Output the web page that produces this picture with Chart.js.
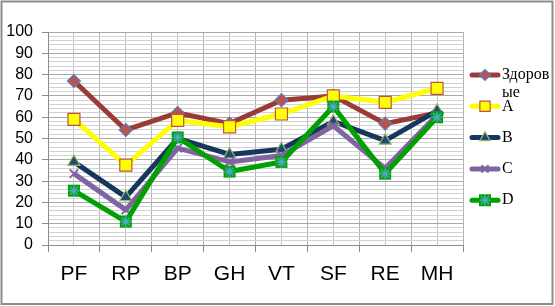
<!DOCTYPE html>
<html>
<head>
<meta charset="utf-8">
<script src="https://cdn.jsdelivr.net/npm/chart.js@4"></script>
<style>
  html, body { margin: 0; padding: 0; background: #fff; }
  #wrap { width: 555px; height: 306px; }
</style>
</head>
<body>
<div id="wrap"><canvas id="myChart1" width="555" height="306"></canvas></div>
<script>
  // Data
  const labels1 = ['PF', 'RP', 'BP', 'GH', 'VT', 'SF', 'RE', 'MH'];
  const seriesNames = ['Здоровые', 'A', 'B', 'C', 'D'];
  const healthyData = [77, 54, 62, 57, 68, 70, 57, 62];
  const aData = [59, 37.5, 58.5, 55.5, 61.5, 70, 67, 73.5];
  const bData = [39, 22.5, 50, 42.5, 45, 58, 49, 63];
  const cData = [33.5, 16.5, 45.5, 39, 42, 56, 36, 61];
  const dData = [25.5, 11, 50.5, 34.5, 39, 65, 33.5, 60];
  const yTicks = [0, 10, 20, 30, 40, 50, 60, 70, 80, 90, 100];

  // square with asterisk marker for series D
  function makeStarSquare() {
    const c = document.createElement('canvas');
    c.width = 14; c.height = 14;
    const g = c.getContext('2d');
    g.fillStyle = '#00A000';
    g.fillRect(1, 1, 12, 12);
    g.strokeStyle = '#4BACC6';
    g.lineWidth = 1.5;
    g.beginPath();
    g.moveTo(7, 1.5); g.lineTo(7, 12.5);
    g.moveTo(1.5, 7); g.lineTo(12.5, 7);
    g.moveTo(3, 3); g.lineTo(11, 11);
    g.moveTo(11, 3); g.lineTo(3, 11);
    g.stroke();
    return c;
  }
  const starSquare = makeStarSquare();

  const datasets = [
    { label: seriesNames[0], data: healthyData, borderColor: '#9B3B38', pointStyle: 'rectRot', pointRadius: 6.5,
      pointBackgroundColor: '#C0504D', pointBorderColor: '#4F81BD', pointBorderWidth: 1.2, order: 5 },
    { label: seriesNames[1], data: aData, borderColor: '#FFFF00', pointStyle: 'rect', pointRadius: 8.5,
      pointBackgroundColor: '#FFFF00', pointBorderColor: '#C0504D', pointBorderWidth: 1.2, order: 4 },
    { label: seriesNames[2], data: bData, borderColor: '#17365D', pointStyle: 'triangle', pointRadius: 7,
      pointBackgroundColor: '#1F497D', pointBorderColor: '#9BBB59', pointBorderWidth: 1.2, order: 3 },
    { label: seriesNames[3], data: cData, borderColor: '#8064A2', pointStyle: 'crossRot', pointRadius: 6,
      pointBackgroundColor: '#8064A2', pointBorderColor: '#8064A2', pointBorderWidth: 2, order: 2 },
    { label: seriesNames[4], data: dData, borderColor: '#00A000', pointStyle: starSquare, pointRadius: 7,
      pointBackgroundColor: '#00A000', pointBorderColor: '#00A000', pointBorderWidth: 1, order: 1 }
  ].map(d => Object.assign({ borderWidth: 5, tension: 0, fill: false, borderJoinStyle: 'round' }, d));

  // frame + white background
  const framePlugin = {
    id: 'frame',
    beforeDraw(chart) {
      const ctx = chart.ctx;
      ctx.save();
      ctx.fillStyle = '#fff';
      ctx.fillRect(0, 0, chart.width, chart.height);
      ctx.restore();
    },
    afterDraw(chart) {
      const ctx = chart.ctx;
      ctx.save();
      ctx.strokeStyle = '#8C8C8C';
      ctx.lineWidth = 2;
      ctx.strokeRect(1.5, 1.5, chart.width - 4, chart.height - 3.5);
      ctx.restore();
    }
  };

  // Excel-like legend: line sample with marker, serif text wrapped by characters
  const legendPlugin = {
    id: 'xlLegend',
    afterDraw(chart) {
      const ctx = chart.ctx;
      const x0 = chart.chartArea.right + 7;
      const textX = x0 + 32;
      const maxW = chart.width - textX - 4;
      ctx.save();
      ctx.font = '16px "Liberation Serif", "Times New Roman", serif';
      ctx.textBaseline = 'middle';
      chart.data.datasets.forEach((ds, i) => {
        const y = 75 + i * 31.3;
        ctx.strokeStyle = ds.borderColor;
        ctx.lineWidth = 5;
        ctx.lineCap = 'round';
        ctx.beginPath();
        ctx.moveTo(x0 + 2, y); ctx.lineTo(x0 + 28, y);
        ctx.stroke();
        ctx.lineCap = 'butt';
        ctx.fillStyle = ds.pointBackgroundColor;
        ctx.strokeStyle = ds.pointBorderColor;
        ctx.lineWidth = ds.pointBorderWidth;
        Chart.helpers.drawPoint(ctx, { pointStyle: ds.pointStyle, radius: ds.pointRadius * 0.85, rotation: 0, borderWidth: ds.pointBorderWidth }, x0 + 15, y);
        // wrap
        const lines = [];
        let cur = '';
        for (const ch of ds.label) {
          if (cur && ctx.measureText(cur + ch).width > maxW) { lines.push(cur); cur = ch; }
          else cur += ch;
        }
        lines.push(cur);
        ctx.fillStyle = '#000';
        lines.forEach((t, k) => ctx.fillText(t, textX, y + k * 18));
      });
      ctx.restore();
    }
  };

  const config1 = {
    type: 'line',
    data: { labels: labels1, datasets: datasets },
    options: {
      responsive: false,
      animation: false,
      layout: { padding: { top: 32, right: 92, left: 0, bottom: 0 } },
      plugins: { legend: { display: false }, title: { display: false }, tooltip: { enabled: false } },
      scales: {
        x: {
          offset: true,
          grid: { offset: true, color: '#B4B4B4', lineWidth: 1, tickLength: 7, tickColor: '#8C8C8C' },
          border: { color: '#8C8C8C', width: 1 },
          ticks: { color: '#000', font: { family: '"Liberation Sans Narrow", "Arial Narrow", Arial, sans-serif', size: 21 }, padding: 10, maxRotation: 0 },
          afterFit(scale) { scale.height = 61; }
        },
        x2: {
          type: 'category',
          position: 'top',
          offset: true,
          grid: { offset: false, color: '#C4C4C4', drawTicks: false },
          border: { display: false },
          ticks: { display: false },
          afterFit(scale) { scale.height = 0; }
        },
        y: {
          min: 0, max: 100,
          ticks: {
            stepSize: 2, autoSkip: false, color: '#000', padding: 9,
            font: { family: '"Liberation Sans", Arial, sans-serif', size: 16 },
            callback: v => (yTicks.includes(v) ? v : '')
          },
          grid: {
            color: c => (yTicks.includes(c.tick.value) ? '#A8A8A8' : '#D2D2D2'),
            tickColor: c => (yTicks.includes(c.tick.value) ? '#8C8C8C' : 'rgba(0,0,0,0)'),
            tickLength: 6
          },
          border: { color: '#8C8C8C' },
          afterFit(scale) { scale.width = 48; }
        }
      }
    },
    plugins: [framePlugin, legendPlugin]
  };

  const ctx = document.getElementById('myChart1').getContext('2d');
  const myChart1 = new Chart(ctx, config1);
</script>
</body>
</html>
